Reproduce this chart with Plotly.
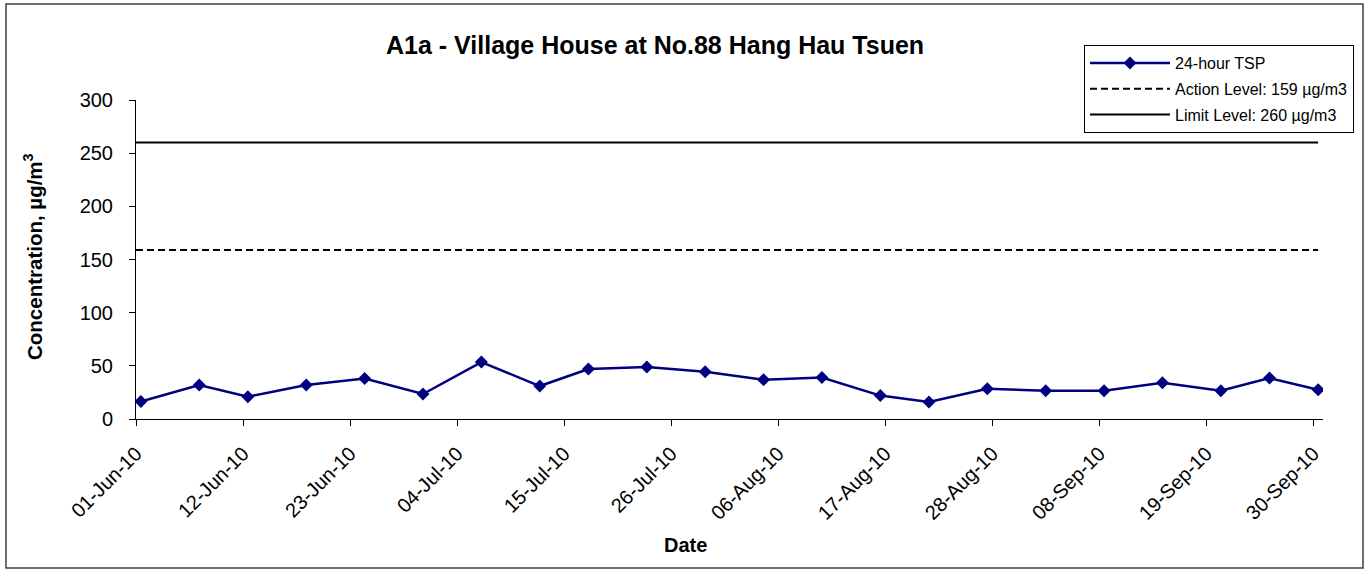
import pandas as pd
import plotly.graph_objects as go

# ---- data ----
sample_dates = ["2010-06-01", "2010-06-07", "2010-06-12", "2010-06-18", "2010-06-24", "2010-06-30",
                "2010-07-06", "2010-07-12", "2010-07-17", "2010-07-23", "2010-07-29", "2010-08-04",
                "2010-08-10", "2010-08-16", "2010-08-21", "2010-08-27", "2010-09-02", "2010-09-08",
                "2010-09-14", "2010-09-20", "2010-09-25", "2010-09-30"]
tsp_values = [16.5, 32, 21, 32, 38, 23.5, 53.5, 31, 47, 49, 44.5, 37, 39, 22, 16, 28.5,
              26.5, 26.5, 34, 26.5, 38.5, 27.5]
action_level = 159
limit_level = 260
tick_dates = ["2010-06-01", "2010-06-12", "2010-06-23", "2010-07-04", "2010-07-15", "2010-07-26",
              "2010-08-06", "2010-08-17", "2010-08-28", "2010-09-08", "2010-09-19", "2010-09-30"]
x_range = ["2010-06-01", "2010-10-01"]
y_ticks = [0, 50, 100, 150, 200, 250, 300]

FONT = "Liberation Sans, Arial, sans-serif"

# Excel date axis: each value sits mid-day in its slot
x_pts = pd.to_datetime(sample_dates) + pd.Timedelta(hours=12)
level_x = [pd.to_datetime(x_range[0]), x_pts[-1]]

fig = go.Figure()
fig.add_trace(go.Scatter(
    x=x_pts, y=tsp_values, mode="lines+markers", name="24-hour TSP",
    line=dict(color="#000080", width=2.5),
    marker=dict(symbol="diamond", size=10, color="#000080"),
    legendgroup="a"))
fig.add_trace(go.Scatter(
    x=level_x, y=[action_level, action_level], mode="lines",
    name="Action Level: 159 µg/m3",
    line=dict(color="black", width=2, dash="7px,4px"), legendgroup="b"))
fig.add_trace(go.Scatter(
    x=level_x, y=[limit_level, limit_level], mode="lines",
    name="Limit Level: 260 µg/m3",
    line=dict(color="black", width=2), legendgroup="c"))

L, R, T, B = 136, 46, 100, 151
W, H = 1369, 570
pw, ph = W - L - R, H - T - B

def px(x):
    return (x - L) / pw

def py(y):
    return (H - B - y) / ph

fig.update_layout(
    width=W, height=H,
    margin=dict(l=L, r=R, t=T, b=B),
    paper_bgcolor="white", plot_bgcolor="white",
    font=dict(family=FONT, color="black", size=20),
    showlegend=True,
    legend=dict(x=px(1084), y=py(45), xanchor="left", yanchor="top",
                bordercolor="black", borderwidth=1, bgcolor="white",
                font=dict(size=16, family=FONT), tracegroupgap=2,
                itemwidth=80),
    xaxis=dict(type="date", range=x_range, tickvals=tick_dates, tickformat="%d-%b-%y",
               tickangle=-45, showline=True, linecolor="black", linewidth=1,
               ticks="outside", ticklen=6, tickcolor="black", showgrid=False,
               zeroline=False, tickfont=dict(size=20), ticklabelstandoff=8),
    yaxis=dict(range=[0, 300], tickvals=y_ticks, showline=True, linecolor="black",
               linewidth=1, ticks="outside", ticklen=6, tickcolor="black",
               showgrid=False, zeroline=False, tickfont=dict(size=20),
               ticklabelstandoff=12),
    annotations=[
        dict(text="<b>A1a - Village House at No.88 Hang Hau Tsuen</b>",
             x=px(655), y=py(45), xref="paper", yref="paper", showarrow=False,
             font=dict(size=25, family=FONT), xanchor="center", yanchor="middle"),
        dict(text="<b>Concentration, µg/m<sup>3</sup></b>", textangle=-90,
             x=px(33), y=py(257), xref="paper", yref="paper", showarrow=False,
             font=dict(size=20.5, family=FONT), xanchor="center", yanchor="middle"),
        dict(text="<b>Date</b>", x=px(685), y=py(545), xref="paper", yref="paper",
             showarrow=False, font=dict(size=20, family=FONT),
             xanchor="center", yanchor="middle"),
    ],
    shapes=[dict(type="rect", xref="paper", yref="paper",
                 x0=px(6), x1=px(1363), y0=py(568), y1=py(4),
                 line=dict(color="#404040", width=1.5), layer="below")],
)

fig.write_html("out.html", config={"displayModeBar": False},
               post_script="document.body.style.margin='0';")
